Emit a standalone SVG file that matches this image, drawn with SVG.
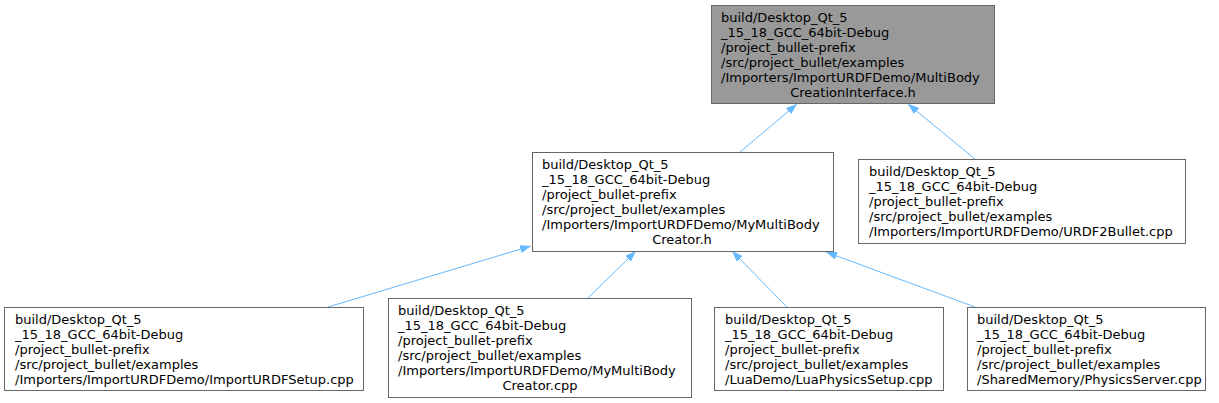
<svg xmlns="http://www.w3.org/2000/svg" width="1219" height="403" viewBox="0 0 1219 403">
<style>
.n rect{fill:#ffffff;stroke:#666666;stroke-width:1}
.n.root rect{fill:#999999}
.n text{font-family:"DejaVu Sans",sans-serif;font-size:13px;fill:#000000}
.c{text-anchor:middle}
.e{fill:none;stroke:#63b8ff;stroke-width:1;marker-end:url(#ah)}
</style>
<defs>
<marker id="ah" viewBox="0 0 11 8" refX="11" refY="4" markerWidth="11" markerHeight="8" markerUnits="userSpaceOnUse" orient="auto">
<path d="M0,0 L11,4 L0,8 z" fill="#63b8ff" stroke="none"/>
</marker>
</defs>
<rect width="1219" height="403" fill="#ffffff"/>
<g id="edges">
<path class="e" d="M740,152 L797,104"/>
<path class="e" d="M975,159 L908,104"/>
<path class="e" d="M328,307 L531,246"/>
<path class="e" d="M588,298 L636,251"/>
<path class="e" d="M787,307 L732,251"/>
<path class="e" d="M975,307 L826,252"/>
</g>
<g id="node1" class="n root">
<rect x="711.5" y="5.5" width="283" height="98"/>
<text x="721" y="22">build/Desktop_Qt_5</text>
<text x="721" y="37">_15_18_GCC_64bit-Debug</text>
<text x="721" y="52">/project_bullet-prefix</text>
<text x="721" y="67">/src/project_bullet/examples</text>
<text x="721" y="82">/Importers/ImportURDFDemo/MultiBody</text>
<text class="c" x="853" y="97">CreationInterface.h</text>
</g>
<g id="node2" class="n">
<rect x="532.5" y="152.5" width="301" height="99"/>
<text x="542" y="169">build/Desktop_Qt_5</text>
<text x="542" y="184">_15_18_GCC_64bit-Debug</text>
<text x="542" y="199">/project_bullet-prefix</text>
<text x="542" y="214">/src/project_bullet/examples</text>
<text x="542" y="229">/Importers/ImportURDFDemo/MyMultiBody</text>
<text class="c" x="682" y="244">Creator.h</text>
</g>
<g id="node3" class="n">
<rect x="858.5" y="159.5" width="327" height="84"/>
<text x="869" y="176">build/Desktop_Qt_5</text>
<text x="869" y="191">_15_18_GCC_64bit-Debug</text>
<text x="869" y="206">/project_bullet-prefix</text>
<text x="869" y="221">/src/project_bullet/examples</text>
<text x="869" y="236">/Importers/ImportURDFDemo/URDF2Bullet.cpp</text>
</g>
<g id="node4" class="n">
<rect x="4.5" y="307.5" width="359" height="83"/>
<text x="15" y="324">build/Desktop_Qt_5</text>
<text x="15" y="339">_15_18_GCC_64bit-Debug</text>
<text x="15" y="354">/project_bullet-prefix</text>
<text x="15" y="369">/src/project_bullet/examples</text>
<text x="15" y="384">/Importers/ImportURDFDemo/ImportURDFSetup.cpp</text>
</g>
<g id="node5" class="n">
<rect x="388.5" y="298.5" width="303" height="99"/>
<text x="398" y="315">build/Desktop_Qt_5</text>
<text x="398" y="330">_15_18_GCC_64bit-Debug</text>
<text x="398" y="345">/project_bullet-prefix</text>
<text x="398" y="360">/src/project_bullet/examples</text>
<text x="398" y="375">/Importers/ImportURDFDemo/MyMultiBody</text>
<text class="c" x="540" y="390">Creator.cpp</text>
</g>
<g id="node6" class="n">
<rect x="714.5" y="307.5" width="229" height="83"/>
<text x="725" y="324">build/Desktop_Qt_5</text>
<text x="725" y="339">_15_18_GCC_64bit-Debug</text>
<text x="725" y="354">/project_bullet-prefix</text>
<text x="725" y="369">/src/project_bullet/examples</text>
<text x="725" y="384">/LuaDemo/LuaPhysicsSetup.cpp</text>
</g>
<g id="node7" class="n">
<rect x="967.5" y="307.5" width="238" height="83"/>
<text x="977" y="324">build/Desktop_Qt_5</text>
<text x="977" y="339">_15_18_GCC_64bit-Debug</text>
<text x="977" y="354">/project_bullet-prefix</text>
<text x="977" y="369">/src/project_bullet/examples</text>
<text x="977" y="384">/SharedMemory/PhysicsServer.cpp</text>
</g>
</svg>
